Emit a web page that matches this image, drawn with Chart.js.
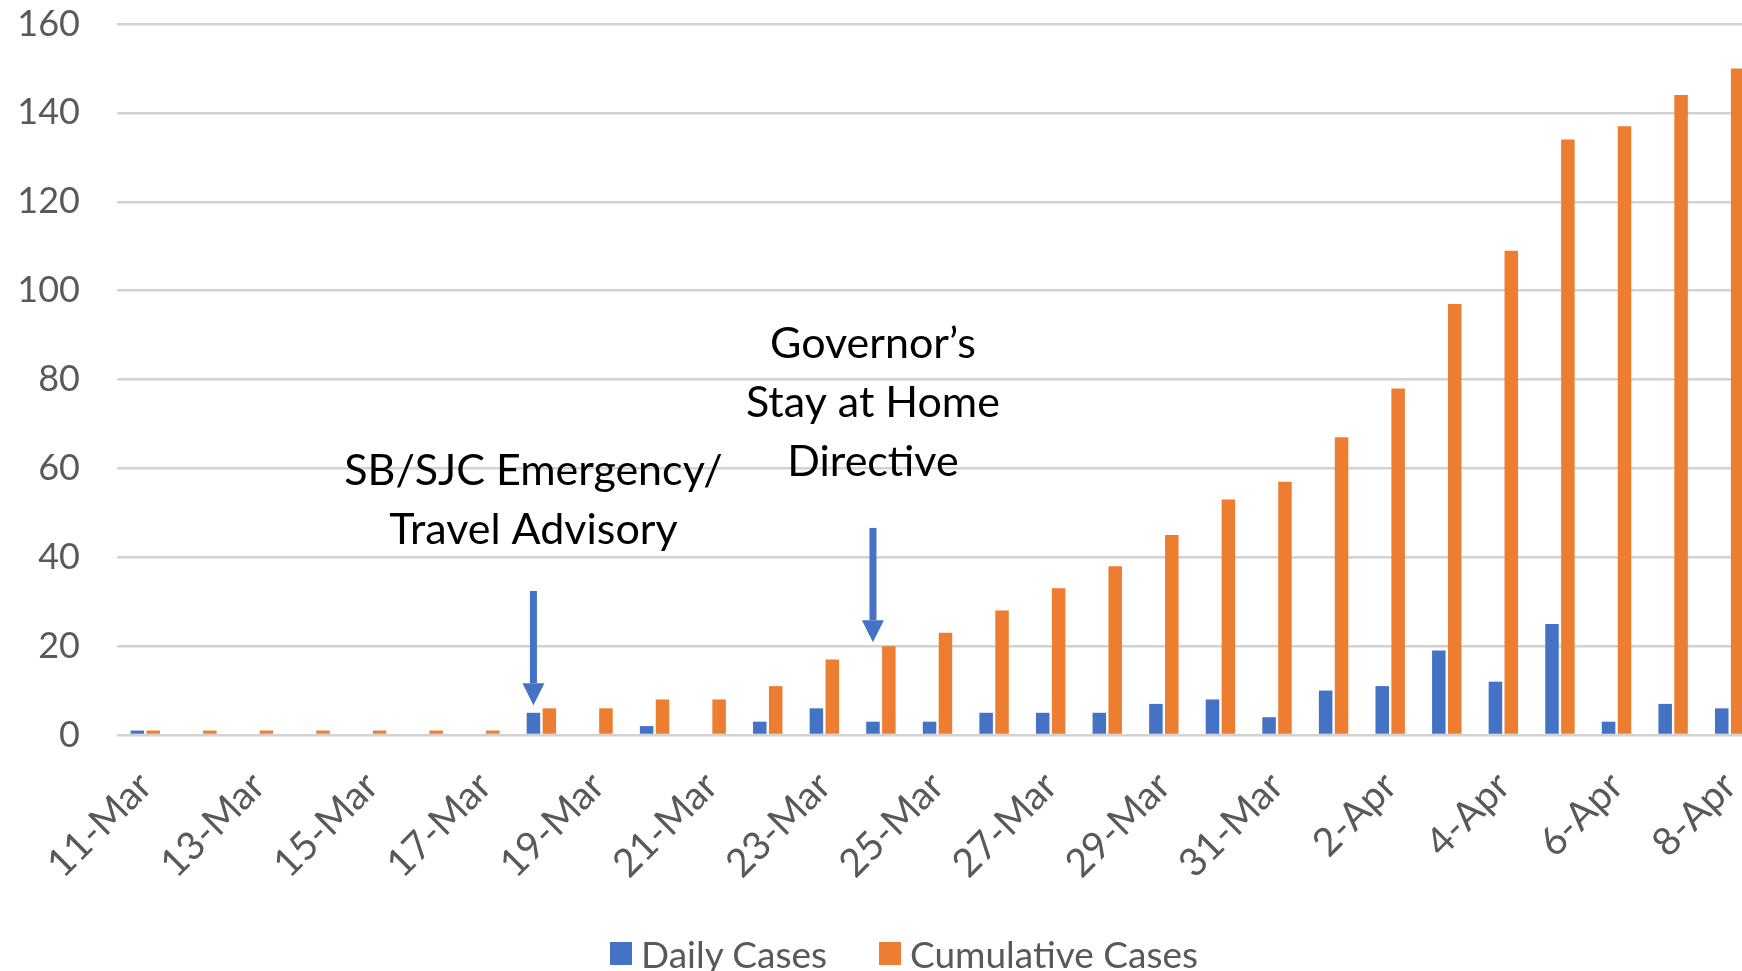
<!DOCTYPE html>
<html>
<head>
<meta charset="utf-8">
<title>Daily and Cumulative Cases</title>
<script src="https://cdn.jsdelivr.net/npm/chart.js@4/dist/chart.umd.min.js"></script>
<style>
    html, body { margin: 0; padding: 0; background: #fff; overflow: hidden; }
    .chart-wrap { position: relative; width: 1742px; height: 971px; overflow: hidden; }
    #casesChart { position: absolute; left: 0; top: 0; }
    .legend-item { position: absolute; top: 930px; display: flex; align-items: center; height: 46px;
        font-family: Lato, sans-serif; font-size: 37px; color: #595959; white-space: nowrap; }
    .legend-item .swatch { display: inline-block; width: 22px; height: 23px; margin-right: 9px; }
</style>
</head>
<body>
<div class="chart-wrap">
    <canvas id="casesChart" width="1758" height="971"></canvas>
    <div class="legend-item" style="left:610px"><span class="swatch" style="background:#4472C4"></span>Daily Cases</div>
    <div class="legend-item" style="left:879px"><span class="swatch" style="background:#ED7D31"></span>Cumulative Cases</div>
</div>
<script>
const days = ['11-Mar', '12-Mar', '13-Mar', '14-Mar', '15-Mar', '16-Mar', '17-Mar', '18-Mar', '19-Mar', '20-Mar',
    '21-Mar', '22-Mar', '23-Mar', '24-Mar', '25-Mar', '26-Mar', '27-Mar', '28-Mar', '29-Mar', '30-Mar',
    '31-Mar', '1-Apr', '2-Apr', '3-Apr', '4-Apr', '5-Apr', '6-Apr', '7-Apr', '8-Apr'];
const dailyCases = [1, 0, 0, 0, 0, 0, 0, 5, 0, 2, 0, 3, 6, 3, 3, 5, 5, 5, 7, 8, 4, 10, 11, 19, 12, 25, 3, 7, 6];
const cumulativeCases = [1, 1, 1, 1, 1, 1, 1, 6, 6, 8, 8, 11, 17, 20, 23, 28, 33, 38, 45, 53, 57, 67, 78, 97, 109, 134, 137, 144, 150];
const yTicks = [0, 20, 40, 60, 80, 100, 120, 140, 160];

// callouts with arrows pointing at a day's bars
const notes = [
    { day: '18-Mar', lines: ['SB/SJC Emergency/', 'Travel Advisory'], textAt: 56.3, arrowFrom: 32.4, arrowTo: 6.7 },
    { day: '24-Mar', lines: ['Governor\u2019s', 'Stay at Home', 'Directive'], textAt: 84.8, arrowFrom: 46.6, arrowTo: 20.9 }
];

const calloutPlugin = {
    id: 'callouts',
    afterDatasetsDraw(chart) {
        const ctx = chart.ctx;
        const y = chart.scales.y;
        const meta = chart.getDatasetMeta(0);
        ctx.save();
        notes.forEach(note => {
            const x = meta.data[days.indexOf(note.day)].x;
            const top = y.getPixelForValue(note.arrowFrom);
            const tip = y.getPixelForValue(note.arrowTo);
            const headH = 22;

            ctx.fillStyle = '#4472C4';
            ctx.fillRect(x - 3.5, top, 7, tip - headH - top);
            ctx.beginPath();
            ctx.moveTo(x - 11, tip - headH);
            ctx.lineTo(x + 11, tip - headH);
            ctx.lineTo(x, tip);
            ctx.closePath();
            ctx.fill();

            ctx.fillStyle = '#000';
            ctx.font = '43px Lato';
            ctx.textAlign = 'center';
            ctx.textBaseline = 'alphabetic';
            const base = y.getPixelForValue(note.textAt);
            note.lines.forEach((line, i) => ctx.fillText(line, x, base + i * 59));
        });
        ctx.restore();
    }
};

function renderChart() {
    const ctx = document.getElementById('casesChart').getContext('2d');
    Chart.defaults.font.family = 'Lato';
    Chart.defaults.color = '#595959';

    new Chart(ctx, {
        type: 'bar',
        data: {
            labels: days,
            datasets: [{
                label: 'Daily Cases',
                data: dailyCases,
                backgroundColor: '#4472C4'
            }, {
                label: 'Cumulative Cases',
                data: cumulativeCases,
                backgroundColor: '#ED7D31'
            }]
        },
        options: {
            responsive: false,
            animation: false,
            layout: { padding: { top: 24, left: 0, right: 0, bottom: 0 } },
            datasets: {
                bar: { categoryPercentage: 0.562, barPercentage: 0.85 }
            },
            plugins: {
                legend: { display: false },
                tooltip: { enabled: false }
            },
            scales: {
                x: {
                    grid: { display: false },
                    border: { display: false },
                    ticks: {
                        autoSkip: false,
                        minRotation: 45,
                        maxRotation: 45,
                        padding: 20,
                        font: { size: 39 },
                        callback: function (value, index) {
                            return index % 2 === 0 ? this.getLabelForValue(value) : '';
                        }
                    },
                    afterFit: function (scale) {
                        scale.height = 236;
                        scale.paddingLeft = 0;
                        scale.paddingRight = 0;
                    }
                },
                y: {
                    min: 0,
                    max: 160,
                    afterBuildTicks: function (scale) {
                        scale.ticks = yTicks.map(v => ({ value: v }));
                    },
                    grid: { color: '#d2d2d2', lineWidth: 2.5, drawTicks: false },
                    border: { display: false },
                    ticks: { padding: 37, font: { size: 36 } },
                    afterFit: function (scale) {
                        scale.width = 117;
                        scale.paddingTop = 0;
                        scale.paddingBottom = 0;
                    }
                }
            }
        },
        plugins: [calloutPlugin]
    });
}

document.fonts.load('36px Lato').then(renderChart, renderChart);
</script>
</body>
</html>
